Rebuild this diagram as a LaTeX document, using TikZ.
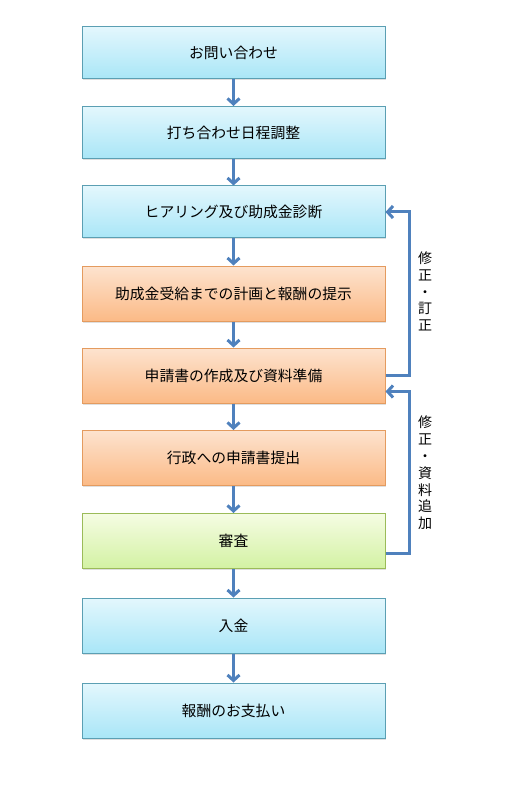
\documentclass[tikz,border=0pt]{standalone}
\usepackage{fontspec}
\setmainfont{Noto Sans CJK JP}
\usetikzlibrary{arrows.meta, calc, shadows}

\definecolor{flowblue}{HTML}{4F81BD}
\definecolor{bluetop}{HTML}{E3F7FD}
\definecolor{bluebot}{HTML}{A9E6F7}
\definecolor{blueline}{HTML}{5B9FB3}
\definecolor{orangetop}{HTML}{FDE3CF}
\definecolor{orangebot}{HTML}{FBBA86}
\definecolor{orangeline}{HTML}{E49B5F}
\definecolor{greentop}{HTML}{F5FCE3}
\definecolor{greenbot}{HTML}{D3F2A3}
\definecolor{greenline}{HTML}{9BBB59}

\tikzset{
  stepbox/.style={draw, line width=1pt, minimum width=303pt, minimum height=52pt,
    font=\fontsize{14.8pt}{17pt}\selectfont, text=black,
    drop shadow={shadow xshift=1pt, shadow yshift=-1.5pt, opacity=0.25}},
  bluebox/.style={stepbox, draw=blueline, top color=bluetop, bottom color=bluebot},
  orangebox/.style={stepbox, draw=orangeline, top color=orangetop, bottom color=orangebot, minimum height=55pt},
  greenbox/.style={stepbox, draw=greenline, top color=greentop, bottom color=greenbot, minimum height=55pt},
  flow/.style={draw=flowblue, line width=3pt, -{Straight Barb[length=5.5pt, width=12pt]}},
  sidelabel/.style={align=center, font=\fontsize{14pt}{16.8pt}\selectfont, text=black}
}

\begin{document}
\begin{tikzpicture}[x=1pt, y=-1pt]
    \useasboundingbox (0,0) rectangle (521,799);
    % Steps
    \node[bluebox] (a) at (233.5,53) {お問い合わせ};
    \node[bluebox] (b) at (233.5,132.5) {打ち合わせ日程調整};
    \node[bluebox] (c) at (233.5,212) {ヒアリング及び助成金診断};
    \node[orangebox] (d) at (233.5,293.5) {助成金受給までの計画と報酬の提示};
    \node[orangebox] (e) at (233.5,375.5) {申請書の作成及び資料準備};
    \node[orangebox] (f) at (233.5,458) {行政への申請書提出};
    \node[greenbox] (g) at (233.5,541) {審査};
    \node[bluebox, minimum height=55pt] (h) at (233.5,625.5) {入金};
    \node[bluebox, minimum height=55pt] (i) at (233.5,710.5) {報酬のお支払い};
    % Main flow
    \foreach \from/\to in {a/b, b/c, c/d, d/e, e/f, f/g, g/h, h/i}
        \draw[flow] (\from.south) -- (\to.north);
    % Feedback loops
    \draw[flow] (e.east) -- ++(24,0) |- (c.east);
    \draw[flow] ($(g.east)+(0,12)$) -- ++(24,0) |- ($(e.east)+(0,16)$);
    \node[sidelabel] (fix1) at (425,291.5) {修\\正\\・\\訂\\正};
    \node[sidelabel] (fix2) at (425,473) {修\\正\\・\\資\\料\\追\\加};
\end{tikzpicture}
\end{document}
